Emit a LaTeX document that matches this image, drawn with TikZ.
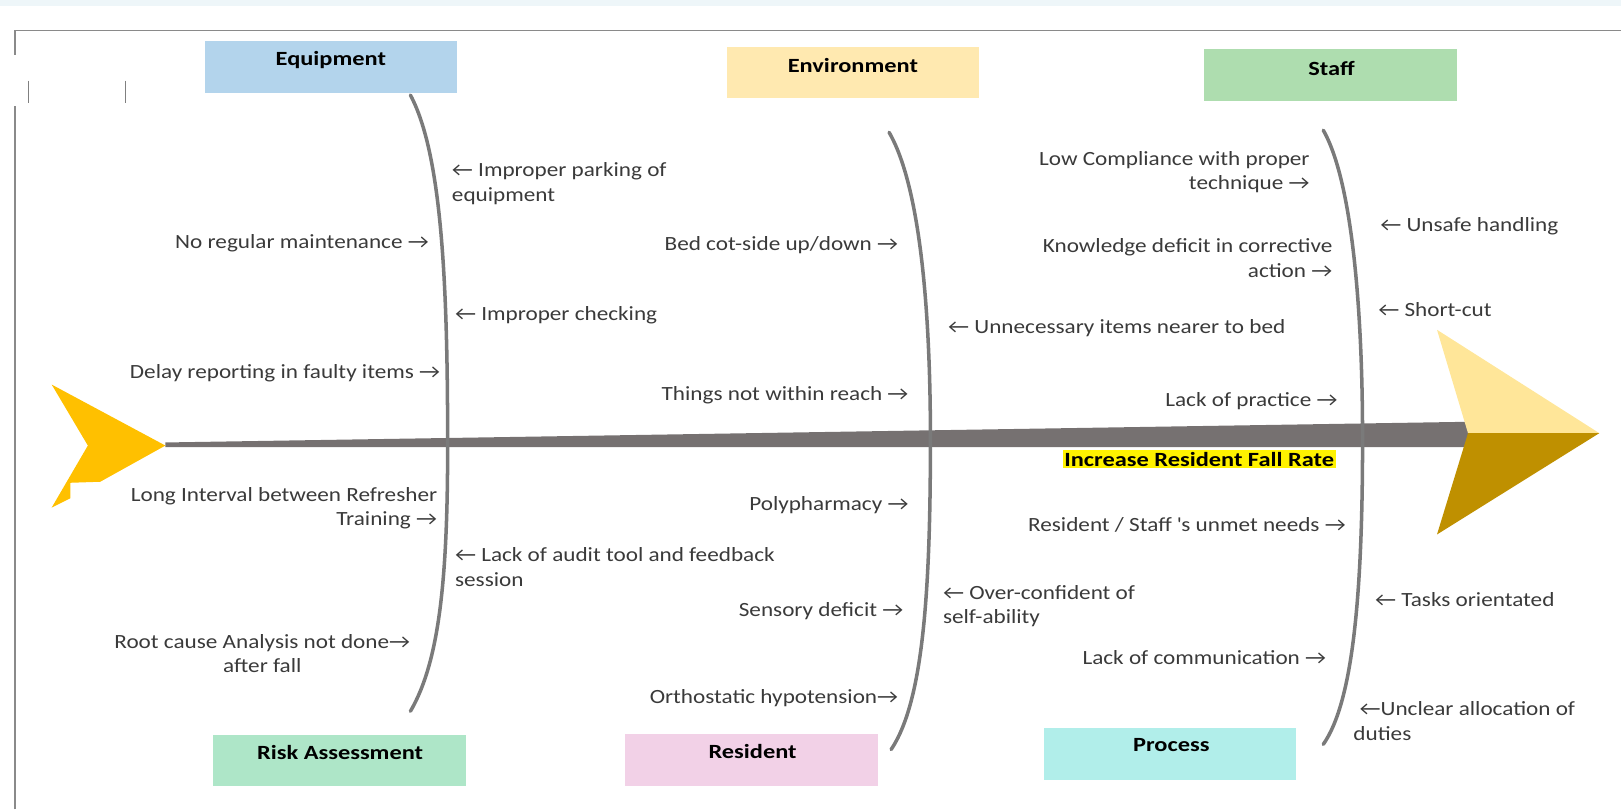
\documentclass[tikz,border=0pt]{standalone}
\usepackage{fontspec}
\setmainfont{Carlito}[FakeStretch=1.15, BoldFeatures={FakeStretch=1.21}]
\newcommand{\ra}{→}
\newcommand{\la}{←}
\definecolor{txt}{HTML}{3A3A3A}
\definecolor{ribgray}{HTML}{7A7A7A}
\definecolor{framegray}{HTML}{8A8A8A}
\definecolor{spinegray}{HTML}{767171}
\definecolor{tailyellow}{HTML}{FFC000}
\definecolor{headlight}{HTML}{FFE699}
\definecolor{headdark}{HTML}{BF9000}
\definecolor{eqblue}{HTML}{B3D4EC}
\definecolor{envyellow}{HTML}{FFE9B0}
\definecolor{staffgreen}{HTML}{AEDDAF}
\definecolor{riskgreen}{HTML}{AEE6C8}
\definecolor{respink}{HTML}{F2D1E7}
\definecolor{proccyan}{HTML}{B1EEEA}
\definecolor{topstrip}{HTML}{EEF6F9}
\begin{document}
\begin{tikzpicture}[x=1pt,y=-1pt,
  lbl/.style={font=\fontsize{19.5}{23.5}\selectfont, text=txt, inner sep=0pt},
  cattext/.style={font=\fontsize{19.5}{23.5}\selectfont\bfseries, text=black, inner sep=0pt},
  catbox/.style={minimum width=244pt, minimum height=50pt, inner sep=0pt, draw=none},
  rib/.style={draw=ribgray, line width=3.4pt, line cap=round},
  frameline/.style={draw=framegray, line width=1.3pt}]
\useasboundingbox (0,0) rectangle (1568,783);
\fill[topstrip] (0,0) rectangle (1568,5.5);
% frame
\draw[frameline] (14.5,783) -- (14.5,103);
\draw[frameline] (14.5,53) -- (14.5,29.5) -- (1568,29.5);
\draw[frameline, draw=gray] (27.7,78) -- (27.7,100);
\draw[frameline, draw=gray] (121.7,78) -- (121.7,100);
% category boxes
\node[catbox, fill=eqblue] (eqbox) at (320,65) {};
\node[cattext] (eq) at (320,58) {Equipment};
\node[catbox, fill=envyellow] (envbox) at (825,70) {};
\node[cattext] (env) at (825,63) {Environment};
\node[catbox, fill=staffgreen] (stbox) at (1287,72.5) {};
\node[cattext] (st) at (1288,66) {Staff};
\node[catbox, fill=riskgreen] (rabox) at (328.5,735.5) {};
\node[cattext] (ra) at (329,728) {Risk Assessment};
\node[catbox, fill=respink] (resbox) at (727,735) {};
\node[cattext] (res) at (728,727) {Resident};
\node[catbox, fill=proccyan] (prbox) at (1131.5,729.5) {};
\node[cattext] (pr) at (1133,721) {Process};
% spine
\coordinate (spineL) at (160,431);
\coordinate (spineR) at (1420,420);
\fill[spinegray] (spineL) -- (160,428) -- (1420,408) -- (1420,432.5) -- (160,432.5) -- cycle;
% tail
\fill[tailyellow] (50,372) -- (spineL) -- (97,466) -- (68,467) -- (68,482) -- (50,491) -- (85,431) -- cycle;
% head
\coordinate (headtip) at (1547,419);
\fill[headlight] (1390,319) -- (headtip) -- (1420,419) -- cycle;
\fill[headdark] (1420,419) -- (headtip) -- (1390,517) -- cycle;
% ribs
\coordinate (eqT) at (397,92);
\coordinate (eqM) at (433,431);
\coordinate (eqB) at (397,688);
\draw[rib] (eqT) .. controls (428,150) and (433,280) .. (eqM) .. controls (433,560) and (425,640) .. (eqB);
\coordinate (enT) at (860,128);
\coordinate (enM) at (900,425);
\coordinate (enB) at (862,725);
\draw[rib] (enT) .. controls (890,180) and (900,300) .. (enM) .. controls (900,580) and (892,680) .. (enB);
\coordinate (stT) at (1280,126);
\coordinate (stM) at (1318,425);
\coordinate (stB) at (1280,720);
\draw[rib] (stT) .. controls (1308,175) and (1318,300) .. (stM) .. controls (1318,580) and (1308,680) .. (stB);
% effect label
\node[cattext, fill=yellow, inner sep=1.5pt] (effect) at (1160,444) {Increase Resident Fall Rate};
% equipment causes
\node[lbl, anchor=west, align=left] (t1) at (437,177.5) {\la{} Improper parking of\\equipment};
\node[lbl, anchor=east] (t2) at (415,235) {No regular maintenance \ra};
\node[lbl, anchor=west] (t3) at (440,305) {\la{} Improper checking};
\node[lbl, anchor=east] (t4) at (426,361) {Delay reporting in faulty items \ra};
\node[lbl, anchor=east, align=right] (t5) at (423,491.5) {Long Interval between Refresher\\Training \ra};
\node[lbl, anchor=west, align=left] (t6) at (440,548.5) {\la{} Lack of audit tool and feedback\\session};
\node[lbl, anchor=east, align=center] (t7) at (397,632.5) {Root cause Analysis not done\ra\\after fall};
% environment / resident causes
\node[lbl, anchor=east] (e1) at (869,237) {Bed cot-side up/down \ra};
\node[lbl, anchor=west] (e2) at (917,317) {\la{} Unnecessary items nearer to bed};
\node[lbl, anchor=east] (e3) at (879,382) {Things not within reach \ra};
\node[lbl, anchor=east] (e4) at (879,489) {Polypharmacy \ra};
\node[lbl, anchor=west, align=left] (e5) at (912,586.5) {\la{} Over-confident of\\self-ability};
\node[lbl, anchor=east] (e6) at (874,591) {Sensory deficit \ra};
\node[lbl, anchor=east] (e7) at (869,675) {Orthostatic hypotension\ra};
% staff / process causes
\node[lbl, anchor=east, align=right] (s1) at (1267,166.5) {Low Compliance with proper\\technique \ra};
\node[lbl, anchor=east, align=right] (s2) at (1289,249.5) {Knowledge deficit in corrective\\action \ra};
\node[lbl, anchor=west] (s3) at (1335,219) {\la{} Unsafe handling};
\node[lbl, anchor=west] (s4) at (1333,299) {\la{} Short-cut};
\node[lbl, anchor=east] (s5) at (1294,388) {Lack of practice \ra};
\node[lbl, anchor=east] (s6) at (1302,508) {Resident / Staff \textquotesingle s unmet needs \ra};
\node[lbl, anchor=west] (s7) at (1330,580) {\la{} Tasks orientated};
\node[lbl, anchor=east] (s8) at (1283,636) {Lack of communication \ra};
\node[lbl, anchor=west, align=left] (s9) at (1309,697.5) {\hspace*{6pt}\la Unclear allocation of\\duties};
\end{tikzpicture}
\end{document}
